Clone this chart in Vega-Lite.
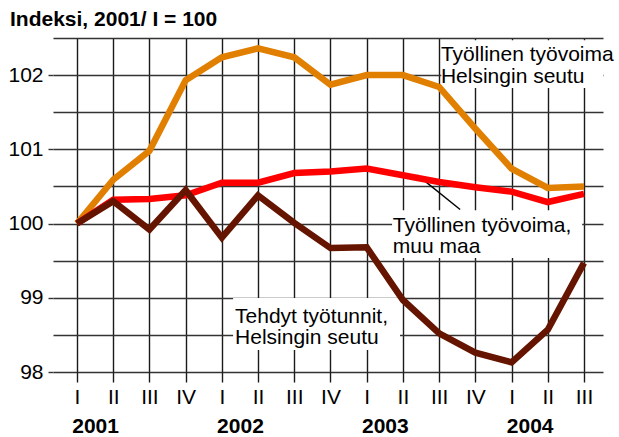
{
  "$schema": "https://vega.github.io/schema/vega-lite/v6.json",
  "width": 550,
  "height": 334,
  "autosize": "none",
  "padding": {"left": 53, "top": 38, "right": 16, "bottom": 65},
  "background": "white",
  "config": {"view": {"stroke": null}, "font": "Liberation Sans"},
  "title": {"text": "Indeksi, 2001/ I = 100", "anchor": "start", "frame": "group", "fontSize": 21, "fontWeight": "bold", "font": "Liberation Sans", "color": "black", "dx": -43, "dy": 10, "offset": 7},
  "datasets": {
    "series": [
      {"t": 0, "series": "Työllinen työvoima, Helsingin seutu", "value": 100.0},
      {"t": 1, "series": "Työllinen työvoima, Helsingin seutu", "value": 100.59},
      {"t": 2, "series": "Työllinen työvoima, Helsingin seutu", "value": 100.98},
      {"t": 3, "series": "Työllinen työvoima, Helsingin seutu", "value": 101.93},
      {"t": 4, "series": "Työllinen työvoima, Helsingin seutu", "value": 102.24},
      {"t": 5, "series": "Työllinen työvoima, Helsingin seutu", "value": 102.36},
      {"t": 6, "series": "Työllinen työvoima, Helsingin seutu", "value": 102.24},
      {"t": 7, "series": "Työllinen työvoima, Helsingin seutu", "value": 101.87},
      {"t": 8, "series": "Työllinen työvoima, Helsingin seutu", "value": 102.0},
      {"t": 9, "series": "Työllinen työvoima, Helsingin seutu", "value": 102.0},
      {"t": 10, "series": "Työllinen työvoima, Helsingin seutu", "value": 101.84},
      {"t": 11, "series": "Työllinen työvoima, Helsingin seutu", "value": 101.28},
      {"t": 12, "series": "Työllinen työvoima, Helsingin seutu", "value": 100.74},
      {"t": 13, "series": "Työllinen työvoima, Helsingin seutu", "value": 100.48},
      {"t": 14, "series": "Työllinen työvoima, Helsingin seutu", "value": 100.5},
      {"t": 0, "series": "Työllinen työvoima, muu maa", "value": 100.0},
      {"t": 1, "series": "Työllinen työvoima, muu maa", "value": 100.32},
      {"t": 2, "series": "Työllinen työvoima, muu maa", "value": 100.33},
      {"t": 3, "series": "Työllinen työvoima, muu maa", "value": 100.38},
      {"t": 4, "series": "Työllinen työvoima, muu maa", "value": 100.55},
      {"t": 5, "series": "Työllinen työvoima, muu maa", "value": 100.55},
      {"t": 6, "series": "Työllinen työvoima, muu maa", "value": 100.68},
      {"t": 7, "series": "Työllinen työvoima, muu maa", "value": 100.7},
      {"t": 8, "series": "Työllinen työvoima, muu maa", "value": 100.74},
      {"t": 9, "series": "Työllinen työvoima, muu maa", "value": 100.65},
      {"t": 10, "series": "Työllinen työvoima, muu maa", "value": 100.56},
      {"t": 11, "series": "Työllinen työvoima, muu maa", "value": 100.49},
      {"t": 12, "series": "Työllinen työvoima, muu maa", "value": 100.43},
      {"t": 13, "series": "Työllinen työvoima, muu maa", "value": 100.29},
      {"t": 14, "series": "Työllinen työvoima, muu maa", "value": 100.4},
      {"t": 0, "series": "Tehdyt työtunnit, Helsingin seutu", "value": 100.0},
      {"t": 1, "series": "Tehdyt työtunnit, Helsingin seutu", "value": 100.3},
      {"t": 2, "series": "Tehdyt työtunnit, Helsingin seutu", "value": 99.92},
      {"t": 3, "series": "Tehdyt työtunnit, Helsingin seutu", "value": 100.45},
      {"t": 4, "series": "Tehdyt työtunnit, Helsingin seutu", "value": 99.81},
      {"t": 5, "series": "Tehdyt työtunnit, Helsingin seutu", "value": 100.38},
      {"t": 6, "series": "Tehdyt työtunnit, Helsingin seutu", "value": 100.01},
      {"t": 7, "series": "Tehdyt työtunnit, Helsingin seutu", "value": 99.67},
      {"t": 8, "series": "Tehdyt työtunnit, Helsingin seutu", "value": 99.68},
      {"t": 9, "series": "Tehdyt työtunnit, Helsingin seutu", "value": 98.97},
      {"t": 10, "series": "Tehdyt työtunnit, Helsingin seutu", "value": 98.52},
      {"t": 11, "series": "Tehdyt työtunnit, Helsingin seutu", "value": 98.26},
      {"t": 12, "series": "Tehdyt työtunnit, Helsingin seutu", "value": 98.13},
      {"t": 13, "series": "Tehdyt työtunnit, Helsingin seutu", "value": 98.57},
      {"t": 14, "series": "Tehdyt työtunnit, Helsingin seutu", "value": 99.47}
    ],
    "boxes": [
      {"x1": 10.06, "x2": 14.53, "y1": 102.47, "y2": 101.825},
      {"x1": 8.7, "x2": 13.95, "y1": 100.18, "y2": 99.535},
      {"x1": 4.31, "x2": 8.92, "y1": 98.997, "y2": 98.296}
    ],
    "labels": [
      {"x": 10.05, "y": 102.193, "text": "Työllinen työvoima"},
      {"x": 10.05, "y": 101.896, "text": "Helsingin seutu"},
      {"x": 8.72, "y": 99.881, "text": "Työllinen työvoima,"},
      {"x": 8.72, "y": 99.599, "text": "muu maa"},
      {"x": 4.365, "y": 98.656, "text": "Tehdyt työtunnit,"},
      {"x": 4.365, "y": 98.373, "text": "Helsingin seutu"}
    ],
    "leader": [
      {"x1": 9.4, "y1": 100.653, "x2": 10.58, "y2": 100.19}
    ]
  },
  "resolve": {"axis": {"x": "independent", "y": "independent"}},
  "layer": [
    {
      "data": {"name": "series"},
      "mark": {"type": "point", "opacity": 0},
      "encoding": {
        "x": {"field": "t", "type": "quantitative", "scale": {"domain": [-0.663, 14.525], "nice": false, "zero": false},
          "axis": {"orient": "bottom", "values": [0,1,2,3,4,5,6,7,8,9,10,11,12,13,14], "labelExpr": "['I','II','III','IV'][datum.value % 4]", "title": null, "domain": false, "grid": true, "gridColor": "#1a1a1a", "gridWidth": 1.4, "gridOpacity": 1, "tickColor": "#1a1a1a", "tickWidth": 1.4, "tickSize": 10, "labelPadding": 4, "labelFontSize": 21, "labelColor": "black", "labelBaseline": "top", "labelFlush": false, "labelOverlap": false}},
        "y": {"field": "value", "type": "quantitative", "scale": {"domain": [98, 102.5], "nice": false, "zero": false},
          "axis": {"orient": "left", "values": [98, 98.5, 99, 99.5, 100, 100.5, 101, 101.5, 102, 102.5], "labelExpr": "datum.value % 1 === 0 ? '' + datum.value : ''", "title": null, "domain": false, "grid": true, "gridColor": "#333333", "gridWidth": 1.4, "gridOpacity": 1, "tickColor": "#333333", "tickWidth": 1.4, "tickSize": 5, "tickOpacity": {"condition": {"test": "datum.value % 1 !== 0", "value": 0}, "value": 1}, "labelPadding": 5, "labelFontSize": 21, "labelColor": "black", "labelFlush": false, "labelOverlap": false}}
      }
    },
    {
      "data": {"name": "boxes"},
      "mark": {"type": "rect", "color": "white"},
      "encoding": {
        "x": {"field": "x1", "type": "quantitative", "axis": null},
        "x2": {"field": "x2"},
        "y": {"field": "y1", "type": "quantitative", "axis": null},
        "y2": {"field": "y2"}
      }
    },
    {
      "data": {"name": "leader"},
      "mark": {"type": "rule", "color": "black", "strokeWidth": 1.4},
      "encoding": {
        "x": {"field": "x1", "type": "quantitative", "axis": null},
        "x2": {"field": "x2"},
        "y": {"field": "y1", "type": "quantitative", "axis": null},
        "y2": {"field": "y2"}
      }
    },
    {
      "data": {"name": "series"},
      "mark": {"type": "line", "strokeWidth": 6.5, "strokeJoin": "miter", "strokeCap": "butt"},
      "encoding": {
        "x": {"field": "t", "type": "quantitative", "axis": null},
        "y": {"field": "value", "type": "quantitative", "axis": null},
        "color": {"field": "series", "type": "nominal", "legend": null,
          "scale": {"domain": ["Työllinen työvoima, Helsingin seutu", "Työllinen työvoima, muu maa", "Tehdyt työtunnit, Helsingin seutu"], "range": ["#E17F00", "#FF0000", "#651400"]}},
        "order": {"field": "t"}
      }
    },
    {
      "data": {"name": "labels"},
      "mark": {"type": "text", "align": "left", "baseline": "alphabetic", "fontSize": 21, "font": "Liberation Sans", "color": "black"},
      "encoding": {
        "x": {"field": "x", "type": "quantitative",
          "axis": {"orient": "bottom", "values": [0.5, 4.5, 8.5, 12.5], "labelExpr": "'' + (2001 + floor(datum.value / 4))", "title": null, "domain": false, "grid": false, "ticks": false, "labelPadding": 43, "labelFontSize": 21, "labelFontWeight": "bold", "labelColor": "black", "labelBaseline": "top", "labelFlush": false, "labelOverlap": false}},
        "y": {"field": "y", "type": "quantitative", "axis": null},
        "text": {"field": "text"}
      }
    }
  ]
}
